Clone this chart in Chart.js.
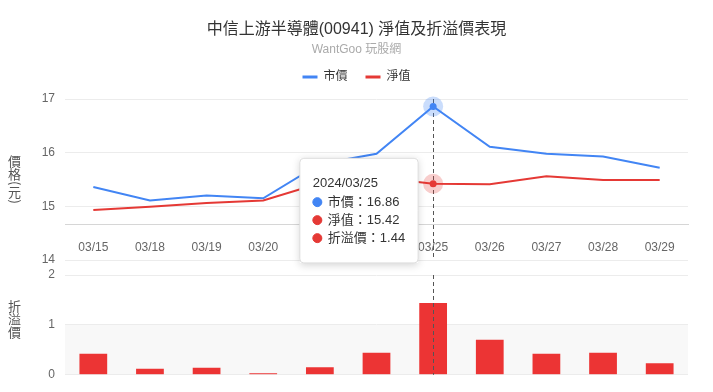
<!DOCTYPE html>
<html>
<head>
<meta charset="utf-8">
<title>中信上游半導體(00941) 淨值及折溢價表現</title>
<script src="https://cdn.jsdelivr.net/npm/chart.js"></script>
<style>
  body { margin: 0; background: #fff; }
  #wrap { position: relative; width: 713px; height: 392px; }
  #wrap canvas { position: absolute; left: 0; top: 0; }
</style>
</head>
<body>
<div id="wrap">
  <canvas id="barChart" width="713" height="392"></canvas>
  <canvas id="lineChart" width="713" height="392"></canvas>
</div>
<script>
// data
const year = '2024';
const dates = ['03/15', '03/18', '03/19', '03/20', '03/21', '03/22', '03/25', '03/26', '03/27', '03/28', '03/29'];
const marketPrice = [15.36, 15.11, 15.20, 15.15, 15.79, 15.98, 16.86, 16.11, 15.98, 15.93, 15.72];
const navPrice = [14.93, 14.99, 15.06, 15.11, 15.43, 15.54, 15.42, 15.41, 15.56, 15.49, 15.49];
const premium = [0.42, 0.12, 0.14, 0.03, 0.15, 0.44, 1.44, 0.70, 0.42, 0.44, 0.23];
const activeIndex = 6; // 03/25 is the hovered day in the screenshot

const blue = '#4285f4';
const red = '#e53935';
const barRed = '#ec3434';

Chart.defaults.font.family = '"Liberation Sans", "Noto Sans CJK TC", sans-serif';
Chart.defaults.color = '#666';

// vertical axis titles, one character under the other
function drawVerticalText(ctx, text, x, cy) {
    const cjkStep = 13, parenStep = 5.5;
    const chars = Array.from(text);
    const steps = chars.map(c => '()'.includes(c) ? parenStep : cjkStep);
    let y = cy - steps.reduce((a, b) => a + b, 0) / 2;
    ctx.save();
    ctx.font = '13px "Noto Sans CJK TC", sans-serif';
    ctx.fillStyle = '#555';
    ctx.textAlign = 'center';
    ctx.textBaseline = 'middle';
    chars.forEach((c, i) => {
        const mid = y + steps[i] / 2;
        if (steps[i] === parenStep) {
            ctx.save();
            ctx.translate(x, mid);
            ctx.rotate(Math.PI / 2);
            ctx.fillText(c, 0, 0);
            ctx.restore();
        } else {
            ctx.fillText(c, x, mid);
        }
        y += steps[i];
    });
    ctx.restore();
}

function drawCrosshair(chart) {
    const { ctx, chartArea } = chart;
    const x = Math.round(chart.scales.x.getPixelForValue(activeIndex)) + 0.5;
    ctx.save();
    ctx.strokeStyle = '#555';
    ctx.lineWidth = 1;
    ctx.setLineDash([4, 3]);
    ctx.beginPath();
    ctx.moveTo(x, chartArea.top);
    ctx.lineTo(x, chartArea.bottom);
    ctx.stroke();
    ctx.restore();
}

// tooltip sits to the left of the hovered point
Chart.Tooltip.positioners.leftOfPoint = function (items) {
    if (!items.length) return false;
    return { x: items[0].element.x, y: this.chart.scales.y.getPixelForValue(14.92) };
};

// ---- bottom: premium bars ----
const barChart = new Chart(document.getElementById('barChart'), {
    type: 'bar',
    data: {
        labels: dates,
        datasets: [{
            label: '折溢價',
            data: premium,
            backgroundColor: barRed,
            barPercentage: 0.49,
            categoryPercentage: 1
        }]
    },
    options: {
        responsive: false,
        animation: false,
        events: [],
        layout: { padding: { top: 275, bottom: 16, right: 25 } },
        plugins: { legend: { display: false }, tooltip: { enabled: false } },
        scales: {
            x: { display: false },
            y: {
                min: 0,
                max: 2,
                ticks: { stepSize: 1, padding: 10, color: '#666', font: { size: 12 } },
                grid: { color: '#ececec', drawTicks: false },
                border: { display: false },
                afterFit: s => { s.width = 65; }
            }
        }
    },
    plugins: [{
        id: 'band',
        beforeDraw(chart) {
            const { ctx, chartArea } = chart;
            const y0 = chart.scales.y.getPixelForValue(0);
            const y1 = chart.scales.y.getPixelForValue(1);
            ctx.save();
            ctx.fillStyle = '#f8f8f8';
            ctx.fillRect(chartArea.left, y1, chartArea.width, y0 - y1);
            ctx.restore();
        },
        afterDatasetsDraw: drawCrosshair,
        afterDraw(chart) {
            const a = chart.chartArea;
            drawVerticalText(chart.ctx, '折溢價', 14.5, (a.top + a.bottom) / 2 - 6);
        }
    }]
});

// ---- top: market price vs NAV ----
const lineChart = new Chart(document.getElementById('lineChart'), {
    type: 'line',
    data: {
        labels: dates,
        datasets: [
            { label: '市價', data: marketPrice, borderColor: blue, backgroundColor: blue, borderWidth: 2, pointRadius: 0, pointHoverRadius: 0 },
            { label: '淨值', data: navPrice, borderColor: red, backgroundColor: red, borderWidth: 2, pointRadius: 0, pointHoverRadius: 0 },
            // only here so the tooltip can list it
            { label: '折溢價', data: premium, yAxisID: 'yPremium', borderColor: red, backgroundColor: red, showLine: false, pointRadius: 0, pointHoverRadius: 0 }
        ]
    },
    options: {
        responsive: false,
        animation: false,
        events: [],
        layout: { padding: { bottom: 132 } },
        plugins: {
            title: {
                display: true,
                text: '中信上游半導體(00941) 淨值及折溢價表現',
                color: '#333',
                font: { size: 16, weight: 'normal' },
                padding: { top: 20.4, bottom: 0 }
            },
            subtitle: {
                display: true,
                text: 'WantGoo 玩股網',
                color: '#aaa',
                font: { size: 12 },
                padding: { top: 3.2, bottom: -4.2 }
            },
            legend: {
                labels: {
                    color: '#333',
                    font: { size: 12 },
                    boxWidth: 15,
                    boxHeight: 3,
                    padding: 18,
                    generateLabels: chart => Chart.defaults.plugins.legend.labels.generateLabels(chart)
                        .filter(l => l.datasetIndex < 2)
                        .map(l => Object.assign(l, { lineWidth: 0 }))
                }
            },
            tooltip: {
                position: 'leftOfPoint',
                xAlign: 'right',
                yAlign: 'center',
                backgroundColor: '#fff',
                borderColor: '#ddd',
                borderWidth: 1,
                cornerRadius: 4,
                caretSize: 0,
                caretPadding: 15,
                padding: { top: 17, bottom: 17, left: 13, right: 13 },
                titleColor: '#333',
                titleFont: { size: 13, weight: 'normal' },
                titleMarginBottom: 3.4,
                bodyColor: '#333',
                bodyFont: { size: 13 },
                bodySpacing: 2.4,
                usePointStyle: true,
                boxWidth: 9,
                boxHeight: 9,
                boxPadding: 4,
                callbacks: {
                    title: items => `${year}/${items[0].label}`,
                    label: c => `${c.dataset.label}：${c.parsed.y.toFixed(2)}`,
                    labelColor: c => ({ borderColor: c.dataset.borderColor, backgroundColor: c.dataset.borderColor }),
                    labelPointStyle: () => ({ pointStyle: 'circle', rotation: 0 })
                }
            }
        },
        scales: {
            x: {
                position: { y: 14.66 },
                offset: true,
                grid: { display: false },
                border: { color: '#d6d6d6' },
                ticks: { padding: 8, color: '#666', font: { size: 12 }, maxRotation: 0, autoSkip: false }
            },
            // empty top axis, only a gap between the legend and the plot
            xGap: {
                axis: 'x',
                position: 'top',
                ticks: { display: false },
                grid: { display: false },
                border: { display: false },
                afterFit: s => { s.height = 6; }
            },
            y: {
                min: 14,
                max: 17,
                ticks: { stepSize: 1, padding: 10, color: '#666', font: { size: 12 } },
                grid: { color: '#ececec', drawTicks: false },
                border: { display: false },
                afterFit: s => { s.width = 65; }
            },
            // invisible right axis: holds the premium series and the right margin
            yPremium: {
                position: 'right',
                min: 0,
                max: 2,
                ticks: { display: false },
                grid: { display: false },
                border: { display: false },
                afterFit: s => { s.width = 25; }
            }
        }
    },
    plugins: [{
        id: 'hover',
        afterDatasetsDraw(chart) {
            drawCrosshair(chart);
            const ctx = chart.ctx;
            [[0, 'rgba(66,133,244,0.28)', blue], [1, 'rgba(229,57,53,0.25)', red]].forEach(([i, halo, solid]) => {
                const el = chart.getDatasetMeta(i).data[activeIndex];
                ctx.save();
                ctx.fillStyle = halo;
                ctx.beginPath(); ctx.arc(el.x, el.y, 10, 0, Math.PI * 2); ctx.fill();
                ctx.fillStyle = solid;
                ctx.beginPath(); ctx.arc(el.x, el.y, 3.5, 0, Math.PI * 2); ctx.fill();
                ctx.restore();
            });
        },
        beforeTooltipDraw(chart, args) {
            const t = args.tooltip;
            const ctx = chart.ctx;
            ctx.save();
            ctx.shadowColor = 'rgba(0,0,0,0.18)';
            ctx.shadowBlur = 8;
            ctx.shadowOffsetY = 2;
            ctx.fillStyle = '#fff';
            ctx.fillRect(t.x, t.y, t.width, t.height);
            ctx.restore();
        },
        afterDraw(chart) {
            const a = chart.chartArea;
            drawVerticalText(chart.ctx, '價格(元)', 14.5, (a.top + a.bottom) / 2);
        }
    }]
});

lineChart.tooltip.setActiveElements(
    [0, 1, 2].map(i => ({ datasetIndex: i, index: activeIndex })),
    { x: 0, y: 0 }
);
lineChart.update();
</script>
</body>
</html>
